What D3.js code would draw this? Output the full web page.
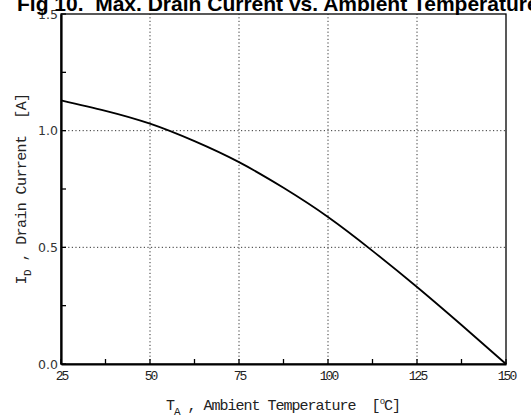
<!DOCTYPE html>
<html>
<head>
<meta charset="utf-8">
<script src="https://cdn.jsdelivr.net/npm/d3@7"></script>
<style>
    body { margin: 0; background: #fff; }
    .tick-y { font-family: "DejaVu Sans", sans-serif; font-size: 12.5px; fill: #333; }
    .tick-x, .axis-title { font-family: "Liberation Mono", monospace; fill: #222; }
    text { white-space: pre; }
</style>
</head>
<body>
<svg id="chart" width="531" height="420"></svg>
<script>
    const temps = [25, 37.5, 50, 62.5, 75, 87.5, 100, 112.5, 125, 137.5, 150];
    const current = [1.13, 1.085, 1.03, 0.955, 0.865, 0.755, 0.63, 0.485, 0.33, 0.167, 0];

    const xTicks = [25, 50, 75, 100, 125, 150];
    const xMinor = [37.5, 62.5, 87.5, 112.5, 137.5];
    const yTicks = [0, 0.5, 1.0, 1.5];
    const yMinor = [0.25, 0.75, 1.25];

    const margin = { top: 14, right: 25, bottom: 56, left: 61 };
    const W = 531, H = 420;
    const iw = W - margin.left - margin.right;
    const ih = H - margin.top - margin.bottom;

    const svg = d3.select("#chart");

    const x = d3.scaleLinear().domain([25, 150]).range([margin.left, margin.left + iw]);
    const y = d3.scaleLinear().domain([0, 1.5]).range([margin.top + ih, margin.top]);

    // dotted grid
    const grid = svg.append("g").attr("stroke", "#333").attr("stroke-width", 1)
        .attr("stroke-dasharray", "1.2,2.4");
    grid.selectAll("line.gx")
        .data(xTicks.slice(1, -1))
        .join("line")
        .attr("class", "gx")
        .attr("x1", d => x(d)).attr("x2", d => x(d))
        .attr("y1", y(0)).attr("y2", y(1.5));
    grid.selectAll("line.gy")
        .data(yTicks.slice(1, -1))
        .join("line")
        .attr("class", "gy")
        .attr("x1", x(25)).attr("x2", x(150))
        .attr("y1", d => y(d)).attr("y2", d => y(d));

    // frame
    svg.append("rect")
        .attr("x", x(25)).attr("y", y(1.5))
        .attr("width", x(150) - x(25)).attr("height", y(0) - y(1.5))
        .attr("fill", "none").attr("stroke", "#000").attr("stroke-width", 1.3);

    // bottom axis
    const xAxis = d3.axisBottom(x).tickValues(xTicks).tickSize(0).tickPadding(7);
    const gx = svg.append("g")
        .attr("transform", "translate(0," + y(0) + ")")
        .call(xAxis);
    gx.select(".domain").attr("stroke-width", 2.2);
    gx.selectAll("text").attr("class", "tick-x").style("font-size", "13px")
        .attr("letter-spacing", "-2px");
    svg.append("g").selectAll("line")
        .data(xMinor.concat(xTicks))
        .join("line")
        .attr("x1", d => x(d)).attr("x2", d => x(d))
        .attr("y1", y(0)).attr("y2", y(0) - 5)
        .attr("stroke", "#000").attr("stroke-width", 1.3);

    // left axis
    const yAxis = d3.axisLeft(y).tickValues(yTicks).tickFormat(d3.format(".1f")).tickSize(0).tickPadding(3);
    const gy = svg.append("g")
        .attr("transform", "translate(" + x(25) + ",0)")
        .call(yAxis);
    gy.select(".domain").attr("stroke-width", 2.2);
    gy.selectAll("text").attr("class", "tick-y");
    svg.append("g").selectAll("line")
        .data(yMinor.concat(yTicks))
        .join("line")
        .attr("x1", x(25)).attr("x2", x(25) + 5)
        .attr("y1", d => y(d)).attr("y2", d => y(d))
        .attr("stroke", "#000").attr("stroke-width", 1.3);

    // curve
    const line = d3.line()
        .x((d, i) => x(temps[i]))
        .y(d => y(d))
        .curve(d3.curveNatural);
    svg.append("path")
        .datum(current)
        .attr("d", line)
        .attr("fill", "none")
        .attr("stroke", "#000")
        .attr("stroke-width", 1.8);

    // title (runs off the top and right edge like the original)
    svg.append("text")
        .attr("x", 17)
        .attr("y", 11)
        .style("font-family", "Liberation Sans, Arial, sans-serif")
        .style("font-weight", "bold")
        .style("font-size", "21px")
        .text("Fig 10.  Max. Drain Current vs. Ambient Temperature");

    // axis titles
    const xt = svg.append("text")
        .attr("class", "axis-title")
        .attr("x", 283).attr("y", 410)
        .attr("text-anchor", "middle")
        .style("font-size", "15px")
        .attr("letter-spacing", "-1px");
    xt.append("tspan").text("T");
    xt.append("tspan").attr("dy", 5).style("font-size", "11px").text("A");
    xt.append("tspan").attr("dy", -5).text(" , Ambient Temperature  [");
    xt.append("tspan").attr("dy", -6).style("font-size", "9px").text("o");
    xt.append("tspan").attr("dy", 6).text("C]");

    const yt = svg.append("text")
        .attr("class", "axis-title")
        .attr("transform", "translate(26,189) rotate(-90)")
        .attr("text-anchor", "middle")
        .style("font-size", "15px")
        .attr("letter-spacing", "-0.6px");
    yt.append("tspan").text("I");
    yt.append("tspan").attr("dy", 5).style("font-size", "11px").text("D");
    yt.append("tspan").attr("dy", -5).text(" , Drain Current  [A]");
</script>
</body>
</html>
